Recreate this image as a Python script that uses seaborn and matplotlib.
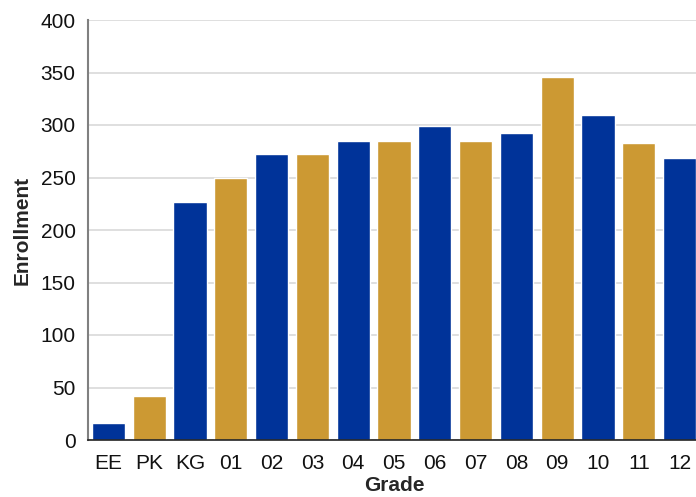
import matplotlib
matplotlib.use("Agg")
import matplotlib.pyplot as plt
import seaborn as sns
import pandas as pd

grades = ["EE", "PK", "KG", "01", "02", "03", "04", "05", "06", "07", "08", "09", "10", "11", "12"]
enrollment = [16, 42, 227, 250, 272, 272, 285, 285, 299, 285, 292, 346, 310, 283, 269]
yticks = [0, 50, 100, 150, 200, 250, 300, 350, 400]

blue = "#003399"
gold = "#CC9933"
colors = [blue if i % 2 == 0 else gold for i in range(len(grades))]

sns.set_theme(style="white")
plt.rcParams["font.family"] = ["Liberation Sans", "DejaVu Sans"]

df = pd.DataFrame({"Grade": grades, "Enrollment": enrollment})

fig = plt.figure(figsize=(6.96, 4.97), dpi=100)
ax = fig.add_axes([88 / 696, 57 / 497, 612 / 696, 420 / 497])

sns.barplot(data=df, x="Grade", y="Enrollment", hue="Grade", palette=colors,
            order=grades, legend=False, width=0.81, saturation=1, ax=ax, zorder=3)

ax.set_ylim(0, 400)
ax.set_xlim(-0.5, len(grades) - 0.5)
ax.set_yticks(yticks)
ax.yaxis.grid(True, color="#d9d9d9", linewidth=1.2, zorder=0)
ax.xaxis.grid(False)
ax.set_axisbelow(True)

for s in ["top", "right"]:
    ax.spines[s].set_visible(False)
ax.spines["left"].set_color("#808080")
ax.spines["left"].set_linewidth(1.5)
ax.spines["bottom"].set_color("#222222")
ax.spines["bottom"].set_linewidth(1.2)
ax.spines["bottom"].set_zorder(4)

ax.tick_params(axis="both", length=0, labelsize=15, colors="#111111")
ax.tick_params(axis="y", pad=9)
ax.tick_params(axis="x", pad=10)

ax.set_xlabel("Grade", fontsize=15, fontweight="bold", labelpad=2.5)
ax.set_ylabel("Enrollment", fontsize=15, fontweight="bold", labelpad=6)

fig.savefig("out.png", dpi=100)
